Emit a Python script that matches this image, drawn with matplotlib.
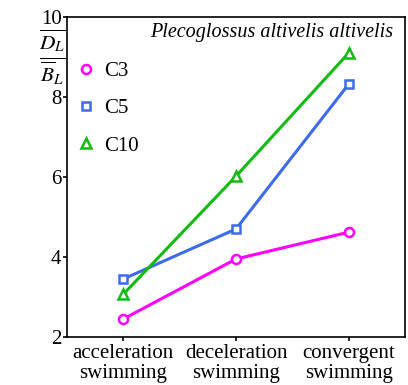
import matplotlib
matplotlib.use("Agg")
import matplotlib.pyplot as plt

categories = ["acceleration\nswimming", "deceleration\nswimming", "convergent\nswimming"]
c3 = [2.45, 3.95, 4.62]
c5 = [3.45, 4.70, 8.32]
c10 = [3.07, 6.02, 9.10]
yticks = [2, 4, 6, 8, 10]

plt.rcParams['font.family'] = ['Liberation Serif', 'DejaVu Serif']
plt.rcParams['mathtext.fontset'] = 'stix'

fig = plt.figure(figsize=(4.08, 3.85), dpi=100)
ax = fig.add_axes([67/408, 48/385, 338/408, 320/385])

x = list(range(len(categories)))
ax.plot(x, c3, color='#FF00FF', lw=2.2, marker='o', ms=6.5, mfc='white', mew=1.8, label='C3')
ax.plot(x, c5, color='#3D6BF0', lw=2.2, marker='s', ms=6, mfc='white', mew=1.8, label='C5')
ax.plot(x, c10, color='#11BB11', lw=2.2, marker='^', ms=6.5, mfc='white', mew=1.8, label='C10')

ax.set_xlim(-0.5, 2.5)
ax.set_ylim(2, 10)
ax.set_yticks(yticks)
ax.set_xticks(x)
ax.set_xticklabels(categories, fontsize=15, linespacing=1.1)
ax.tick_params(axis='both', direction='out', length=3, width=1.2, labelsize=15)
ax.tick_params(axis='y', pad=1)
ax.tick_params(axis='x', pad=2)
for s in ax.spines.values():
    s.set_linewidth(1.2)

ax.text(0.965, 0.95, 'Plecoglossus altivelis altivelis', transform=ax.transAxes,
        ha='right', va='center', fontsize=14.5, style='italic')

fig.text(52/408, 1 - 57/385, r'$\frac{\overline{D_L}}{\overline{B}_L}$', fontsize=22,
         ha='center', va='center')

leg = ax.legend(loc='upper left', bbox_to_anchor=(0.0, 0.92), frameon=False, fontsize=15,
                handlelength=0, handletextpad=0.9, labelspacing=0.85, markerscale=1.0)

fig.savefig('out.png', dpi=100)
